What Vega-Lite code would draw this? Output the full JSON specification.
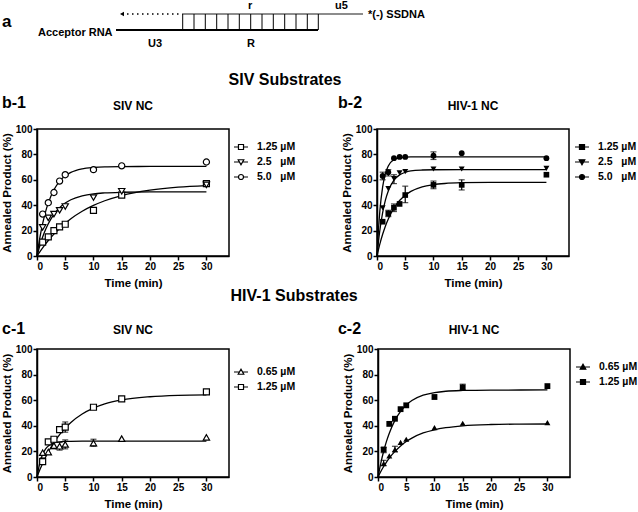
{
"$schema": "https://vega.github.io/schema/vega-lite/v6.json",
"padding": {"left": 0, "top": 0, "right": 0, "bottom": 0},
"background": "white",
"config": {
  "font": "Liberation Sans",
  "view": {"stroke": "black", "strokeWidth": 1.5},
  "axis": {"domainColor": "black", "domainWidth": 1.5, "tickColor": "black", "tickWidth": 1.5, "tickSize": 4, "labelFontSize": 10, "labelFontWeight": "bold", "labelColor": "black", "labelPadding": 1, "labelOverlap": false, "titleFontSize": 11.5, "titleFontWeight": "bold", "titleColor": "black", "grid": false},
  "axisX": {"titlePadding": 6, "tickCount": 7},
  "axisY": {"titlePadding": 3, "tickCount": 6},
  "title": {"fontSize": 16, "fontWeight": "bold", "color": "black", "anchor": "start"},
  "legend": {"title": null, "orient": "none", "labelFontSize": 10.5, "labelFontWeight": "bold", "labelColor": "black", "labelOffset": 8, "symbolSize": 196, "symbolStrokeWidth": 1.2, "symbolOpacity": 1, "rowPadding": 1, "padding": 0}
},
"datasets": {
  "diagLines": [
    {"part": "RNA", "x1": 116, "x2": 318, "y1": 30, "y2": 30},
    {"part": "DNA", "x1": 182, "x2": 363, "y1": 14, "y2": 14},
    {"part": "ext", "x1": 122, "x2": 180, "y1": 14, "y2": 14},
    {"part": "bp", "x1": 182.7, "x2": 182.7, "y1": 14, "y2": 30},
    {"part": "bp", "x1": 194, "x2": 194, "y1": 14, "y2": 30},
    {"part": "bp", "x1": 205.3, "x2": 205.3, "y1": 14, "y2": 30},
    {"part": "bp", "x1": 216.7, "x2": 216.7, "y1": 14, "y2": 30},
    {"part": "bp", "x1": 228, "x2": 228, "y1": 14, "y2": 30},
    {"part": "bp", "x1": 239.3, "x2": 239.3, "y1": 14, "y2": 30},
    {"part": "bp", "x1": 250.7, "x2": 250.7, "y1": 14, "y2": 30},
    {"part": "bp", "x1": 262, "x2": 262, "y1": 14, "y2": 30},
    {"part": "bp", "x1": 273.3, "x2": 273.3, "y1": 14, "y2": 30},
    {"part": "bp", "x1": 284.7, "x2": 284.7, "y1": 14, "y2": 30},
    {"part": "bp", "x1": 296, "x2": 296, "y1": 14, "y2": 30},
    {"part": "bp", "x1": 307.3, "x2": 307.3, "y1": 14, "y2": 30},
    {"part": "bp", "x1": 318.3, "x2": 318.3, "y1": 14, "y2": 30}
  ],
  "diagText": [
    {"label": "Acceptor RNA", "x": 38, "y": 36},
    {"label": "U3", "x": 148, "y": 47},
    {"label": "R", "x": 247, "y": 47},
    {"label": "r", "x": 248, "y": 9},
    {"label": "u5", "x": 335, "y": 9},
    {"label": "*(-) SSDNA", "x": 368, "y": 18}
  ],
  "b1pts": [
    {"t": 1, "y": 11, "conc": "1.25"}, {"t": 2, "y": 15, "conc": "1.25"}, {"t": 3, "y": 20, "conc": "1.25"}, {"t": 4, "y": 23, "conc": "1.25"}, {"t": 5, "y": 25, "conc": "1.25"}, {"t": 10, "y": 36, "conc": "1.25"}, {"t": 15, "y": 48, "conc": "1.25"}, {"t": 30, "y": 57, "conc": "1.25"},
    {"t": 1, "y": 22.5, "conc": "2.5"}, {"t": 2, "y": 30, "conc": "2.5"}, {"t": 3, "y": 33, "conc": "2.5"}, {"t": 4, "y": 36, "conc": "2.5"}, {"t": 5, "y": 39, "conc": "2.5"}, {"t": 10, "y": 46, "conc": "2.5"}, {"t": 15, "y": 51, "conc": "2.5"}, {"t": 30, "y": 56, "conc": "2.5"},
    {"t": 1, "y": 33, "conc": "5.0"}, {"t": 2, "y": 42, "conc": "5.0"}, {"t": 3, "y": 50, "conc": "5.0"}, {"t": 4, "y": 59, "conc": "5.0"}, {"t": 5, "y": 64, "conc": "5.0"}, {"t": 10, "y": 68, "conc": "5.0"}, {"t": 15, "y": 71, "conc": "5.0"}, {"t": 30, "y": 74, "conc": "5.0"}
  ],
  "b1fit": [
    {"t": 0, "y": 0, "conc": "1.25"}, {"t": 0.5, "y": 3.3, "conc": "1.25"}, {"t": 1, "y": 6.4, "conc": "1.25"}, {"t": 1.5, "y": 9.4, "conc": "1.25"}, {"t": 2, "y": 12.2, "conc": "1.25"}, {"t": 3, "y": 17.2, "conc": "1.25"}, {"t": 4, "y": 21.7, "conc": "1.25"}, {"t": 5, "y": 25.7, "conc": "1.25"}, {"t": 6, "y": 29.3, "conc": "1.25"}, {"t": 8, "y": 35.2, "conc": "1.25"}, {"t": 10, "y": 39.8, "conc": "1.25"}, {"t": 12, "y": 43.5, "conc": "1.25"}, {"t": 15, "y": 47.6, "conc": "1.25"}, {"t": 20, "y": 51.8, "conc": "1.25"}, {"t": 25, "y": 54.2, "conc": "1.25"}, {"t": 30, "y": 55.4, "conc": "1.25"},
    {"t": 0, "y": 0, "conc": "2.5"}, {"t": 0.5, "y": 8.1, "conc": "2.5"}, {"t": 1, "y": 14.9, "conc": "2.5"}, {"t": 1.5, "y": 20.6, "conc": "2.5"}, {"t": 2, "y": 25.4, "conc": "2.5"}, {"t": 3, "y": 32.8, "conc": "2.5"}, {"t": 4, "y": 38.0, "conc": "2.5"}, {"t": 5, "y": 41.7, "conc": "2.5"}, {"t": 6, "y": 44.3, "conc": "2.5"}, {"t": 8, "y": 47.4, "conc": "2.5"}, {"t": 10, "y": 49.0, "conc": "2.5"}, {"t": 12, "y": 49.7, "conc": "2.5"}, {"t": 15, "y": 50.2, "conc": "2.5"}, {"t": 20, "y": 50.5, "conc": "2.5"}, {"t": 30, "y": 50.5, "conc": "2.5"},
    {"t": 0, "y": 0, "conc": "5.0"}, {"t": 0.5, "y": 14.2, "conc": "5.0"}, {"t": 1, "y": 25.5, "conc": "5.0"}, {"t": 1.5, "y": 34.6, "conc": "5.0"}, {"t": 2, "y": 41.8, "conc": "5.0"}, {"t": 3, "y": 52.2, "conc": "5.0"}, {"t": 4, "y": 58.8, "conc": "5.0"}, {"t": 5, "y": 63.1, "conc": "5.0"}, {"t": 6, "y": 65.8, "conc": "5.0"}, {"t": 8, "y": 68.6, "conc": "5.0"}, {"t": 10, "y": 69.7, "conc": "5.0"}, {"t": 12, "y": 70.2, "conc": "5.0"}, {"t": 15, "y": 70.4, "conc": "5.0"}, {"t": 20, "y": 70.5, "conc": "5.0"}, {"t": 30, "y": 70.5, "conc": "5.0"}
  ],
  "b2pts": [
    {"t": 1, "y": 27, "conc": "1.25"}, {"t": 2, "y": 33.5, "lo": 31, "hi": 36, "conc": "1.25"}, {"t": 3, "y": 38, "lo": 35, "hi": 41, "conc": "1.25"}, {"t": 4, "y": 41, "conc": "1.25"}, {"t": 5, "y": 48, "lo": 42, "hi": 55, "conc": "1.25"}, {"t": 10, "y": 56, "lo": 53, "hi": 59, "conc": "1.25"}, {"t": 15, "y": 56, "lo": 52, "hi": 60, "conc": "1.25"}, {"t": 30, "y": 64, "conc": "1.25"},
    {"t": 1, "y": 38, "conc": "2.5"}, {"t": 2, "y": 53, "conc": "2.5"}, {"t": 3, "y": 61, "lo": 57, "hi": 64, "conc": "2.5"}, {"t": 4, "y": 65.5, "conc": "2.5"}, {"t": 5, "y": 66.5, "conc": "2.5"}, {"t": 10, "y": 68.5, "conc": "2.5"}, {"t": 15, "y": 68.5, "conc": "2.5"}, {"t": 30, "y": 69, "conc": "2.5"},
    {"t": 1, "y": 63, "lo": 60, "hi": 66, "conc": "5.0"}, {"t": 2, "y": 66, "lo": 63, "hi": 68, "conc": "5.0"}, {"t": 3, "y": 77, "conc": "5.0"}, {"t": 4, "y": 78, "conc": "5.0"}, {"t": 5, "y": 78, "conc": "5.0"}, {"t": 10, "y": 79, "lo": 76, "hi": 82, "conc": "5.0"}, {"t": 15, "y": 81, "conc": "5.0"}, {"t": 30, "y": 77, "conc": "5.0"}
  ],
  "b2fit": [
    {"t": 0, "y": 0, "conc": "1.25"}, {"t": 0.5, "y": 9.3, "conc": "1.25"}, {"t": 1, "y": 17.1, "conc": "1.25"}, {"t": 1.5, "y": 23.7, "conc": "1.25"}, {"t": 2, "y": 29.2, "conc": "1.25"}, {"t": 3, "y": 37.7, "conc": "1.25"}, {"t": 4, "y": 43.7, "conc": "1.25"}, {"t": 5, "y": 47.9, "conc": "1.25"}, {"t": 6, "y": 50.9, "conc": "1.25"}, {"t": 8, "y": 54.5, "conc": "1.25"}, {"t": 10, "y": 56.2, "conc": "1.25"}, {"t": 12, "y": 57.1, "conc": "1.25"}, {"t": 15, "y": 57.7, "conc": "1.25"}, {"t": 20, "y": 58, "conc": "1.25"}, {"t": 30, "y": 58, "conc": "1.25"},
    {"t": 0, "y": 0, "conc": "2.5"}, {"t": 0.25, "y": 10.9, "conc": "2.5"}, {"t": 0.5, "y": 20.1, "conc": "2.5"}, {"t": 1, "y": 34.2, "conc": "2.5"}, {"t": 1.5, "y": 44.2, "conc": "2.5"}, {"t": 2, "y": 51.2, "conc": "2.5"}, {"t": 3, "y": 59.7, "conc": "2.5"}, {"t": 4, "y": 63.9, "conc": "2.5"}, {"t": 5, "y": 65.9, "conc": "2.5"}, {"t": 6, "y": 67.0, "conc": "2.5"}, {"t": 8, "y": 67.7, "conc": "2.5"}, {"t": 10, "y": 67.9, "conc": "2.5"}, {"t": 15, "y": 68, "conc": "2.5"}, {"t": 30, "y": 68, "conc": "2.5"},
    {"t": 0, "y": 0, "conc": "5.0"}, {"t": 0.25, "y": 20.2, "conc": "5.0"}, {"t": 0.5, "y": 35.2, "conc": "5.0"}, {"t": 1, "y": 54.5, "conc": "5.0"}, {"t": 1.5, "y": 65.1, "conc": "5.0"}, {"t": 2, "y": 70.9, "conc": "5.0"}, {"t": 3, "y": 75.9, "conc": "5.0"}, {"t": 4, "y": 77.4, "conc": "5.0"}, {"t": 5, "y": 77.8, "conc": "5.0"}, {"t": 6, "y": 78, "conc": "5.0"}, {"t": 10, "y": 78, "conc": "5.0"}, {"t": 30, "y": 78, "conc": "5.0"}
  ],
  "c1pts": [
    {"t": 1, "y": 19, "conc": "0.65"}, {"t": 2, "y": 19.5, "conc": "0.65"}, {"t": 3, "y": 24.5, "lo": 22, "hi": 28, "conc": "0.65"}, {"t": 4, "y": 24, "lo": 21, "hi": 27, "conc": "0.65"}, {"t": 5, "y": 25.5, "lo": 22, "hi": 29, "conc": "0.65"}, {"t": 10, "y": 26.5, "lo": 24, "hi": 29.5, "conc": "0.65"}, {"t": 15, "y": 30, "conc": "0.65"}, {"t": 30, "y": 31, "conc": "0.65"},
    {"t": 1, "y": 12, "lo": 10, "hi": 15, "conc": "1.25"}, {"t": 2, "y": 27.5, "conc": "1.25"}, {"t": 3, "y": 29.5, "conc": "1.25"}, {"t": 4, "y": 37, "lo": 35, "hi": 39, "conc": "1.25"}, {"t": 5, "y": 39, "lo": 35, "hi": 43, "conc": "1.25"}, {"t": 10, "y": 54.5, "conc": "1.25"}, {"t": 15, "y": 61, "conc": "1.25"}, {"t": 30, "y": 66.5, "conc": "1.25"}
  ],
  "c1fit": [
    {"t": 0, "y": 0, "conc": "0.65"}, {"t": 0.5, "y": 11.0, "conc": "0.65"}, {"t": 1, "y": 17.7, "conc": "0.65"}, {"t": 1.5, "y": 21.8, "conc": "0.65"}, {"t": 2, "y": 24.2, "conc": "0.65"}, {"t": 3, "y": 26.6, "conc": "0.65"}, {"t": 4, "y": 27.5, "conc": "0.65"}, {"t": 5, "y": 27.8, "conc": "0.65"}, {"t": 6, "y": 27.9, "conc": "0.65"}, {"t": 8, "y": 28, "conc": "0.65"}, {"t": 15, "y": 28, "conc": "0.65"}, {"t": 30, "y": 28, "conc": "0.65"},
    {"t": 0, "y": 0, "conc": "1.25"}, {"t": 0.5, "y": 5.6, "conc": "1.25"}, {"t": 1, "y": 10.6, "conc": "1.25"}, {"t": 1.5, "y": 15.3, "conc": "1.25"}, {"t": 2, "y": 19.5, "conc": "1.25"}, {"t": 3, "y": 26.9, "conc": "1.25"}, {"t": 4, "y": 33.1, "conc": "1.25"}, {"t": 5, "y": 38.3, "conc": "1.25"}, {"t": 6, "y": 42.6, "conc": "1.25"}, {"t": 8, "y": 49.2, "conc": "1.25"}, {"t": 10, "y": 53.8, "conc": "1.25"}, {"t": 12, "y": 57.1, "conc": "1.25"}, {"t": 15, "y": 60.2, "conc": "1.25"}, {"t": 20, "y": 62.7, "conc": "1.25"}, {"t": 25, "y": 63.8, "conc": "1.25"}, {"t": 30, "y": 64.2, "conc": "1.25"}
  ],
  "c2pts": [
    {"t": 1, "y": 10.5, "lo": 9, "hi": 13, "conc": "0.65"}, {"t": 2, "y": 16.5, "conc": "0.65"}, {"t": 3, "y": 21.5, "lo": 19.5, "hi": 24, "conc": "0.65"}, {"t": 4, "y": 27, "conc": "0.65"}, {"t": 5, "y": 29.5, "conc": "0.65"}, {"t": 10, "y": 38.5, "conc": "0.65"}, {"t": 15, "y": 42, "conc": "0.65"}, {"t": 30, "y": 42.5, "conc": "0.65"},
    {"t": 1, "y": 21.5, "lo": 19, "hi": 23, "conc": "1.25"}, {"t": 2, "y": 41.5, "conc": "1.25"}, {"t": 3, "y": 45.5, "conc": "1.25"}, {"t": 4, "y": 53, "conc": "1.25"}, {"t": 5, "y": 56, "conc": "1.25"}, {"t": 10, "y": 62.5, "conc": "1.25"}, {"t": 15, "y": 70, "lo": 68, "hi": 72.5, "conc": "1.25"}, {"t": 30, "y": 71, "conc": "1.25"}
  ],
  "c2fit": [
    {"t": 0, "y": 0, "conc": "0.65"}, {"t": 0.5, "y": 4.3, "conc": "0.65"}, {"t": 1, "y": 8.2, "conc": "0.65"}, {"t": 1.5, "y": 11.7, "conc": "0.65"}, {"t": 2, "y": 14.8, "conc": "0.65"}, {"t": 3, "y": 20.0, "conc": "0.65"}, {"t": 4, "y": 24.3, "conc": "0.65"}, {"t": 5, "y": 27.7, "conc": "0.65"}, {"t": 6, "y": 30.4, "conc": "0.65"}, {"t": 8, "y": 34.4, "conc": "0.65"}, {"t": 10, "y": 36.9, "conc": "0.65"}, {"t": 12, "y": 38.5, "conc": "0.65"}, {"t": 15, "y": 40.0, "conc": "0.65"}, {"t": 20, "y": 41.0, "conc": "0.65"}, {"t": 25, "y": 41.3, "conc": "0.65"}, {"t": 30, "y": 41.4, "conc": "0.65"},
    {"t": 0, "y": 0, "conc": "1.25"}, {"t": 0.5, "y": 10.9, "conc": "1.25"}, {"t": 1, "y": 20.1, "conc": "1.25"}, {"t": 1.5, "y": 27.8, "conc": "1.25"}, {"t": 2, "y": 34.2, "conc": "1.25"}, {"t": 3, "y": 44.2, "conc": "1.25"}, {"t": 4, "y": 51.2, "conc": "1.25"}, {"t": 5, "y": 56.2, "conc": "1.25"}, {"t": 6, "y": 59.7, "conc": "1.25"}, {"t": 8, "y": 63.9, "conc": "1.25"}, {"t": 10, "y": 65.9, "conc": "1.25"}, {"t": 12, "y": 67.0, "conc": "1.25"}, {"t": 15, "y": 67.6, "conc": "1.25"}, {"t": 20, "y": 67.9, "conc": "1.25"}, {"t": 30, "y": 68, "conc": "1.25"}
  ]
},
"resolve": {"scale": {"x": "independent", "y": "independent", "shape": "independent"}, "legend": {"shape": "independent"}},
"spacing": -2,
"vconcat": [
  {
    "width": 600, "height": 74,
    "view": {"stroke": null},
    "layer": [
      {"data": {"name": "diagLines"}, "transform": [{"filter": "datum.part == 'RNA'"}], "mark": {"type": "rule", "color": "black", "strokeWidth": 2},
       "encoding": {"x": {"field": "x1", "type": "quantitative", "scale": {"domain": [37, 637], "nice": false, "zero": false}, "axis": null}, "x2": {"field": "x2"}, "y": {"field": "y1", "type": "quantitative", "scale": {"domain": [0, 74], "reverse": true, "nice": false, "zero": false}, "axis": null}, "y2": {"field": "y2"}}},
      {"data": {"name": "diagLines"}, "transform": [{"filter": "datum.part == 'DNA'"}], "mark": {"type": "rule", "color": "#8c8c8c", "strokeWidth": 2},
       "encoding": {"x": {"field": "x1", "type": "quantitative"}, "x2": {"field": "x2"}, "y": {"field": "y1", "type": "quantitative"}, "y2": {"field": "y2"}}},
      {"data": {"name": "diagLines"}, "transform": [{"filter": "datum.part == 'ext'"}], "mark": {"type": "rule", "color": "black", "strokeWidth": 1.5, "strokeDash": [1.5, 3.5]},
       "encoding": {"x": {"field": "x1", "type": "quantitative"}, "x2": {"field": "x2"}, "y": {"field": "y1", "type": "quantitative"}, "y2": {"field": "y2"}}},
      {"data": {"name": "diagLines"}, "transform": [{"filter": "datum.part == 'bp'"}], "mark": {"type": "rule", "color": "black", "strokeWidth": 1},
       "encoding": {"x": {"field": "x1", "type": "quantitative"}, "x2": {"field": "x2"}, "y": {"field": "y1", "type": "quantitative"}, "y2": {"field": "y2"}}},
      {"data": {"name": "diagLines"}, "transform": [{"filter": "datum.part == 'ext'"}], "mark": {"type": "point", "shape": "triangle-left", "filled": true, "color": "black", "size": 22, "opacity": 1},
       "encoding": {"x": {"field": "x1", "type": "quantitative"}, "y": {"field": "y1", "type": "quantitative"}}},
      {"data": {"name": "diagText"}, "mark": {"type": "text", "align": "left", "baseline": "alphabetic", "fontSize": 11, "fontWeight": "bold", "color": "black"},
       "encoding": {"x": {"field": "x", "type": "quantitative"}, "y": {"field": "y", "type": "quantitative"}, "text": {"field": "label"}}},
      {"data": {"values": [{"label": "a"}]}, "mark": {"type": "text", "align": "left", "baseline": "alphabetic", "fontSize": 17, "fontWeight": "bold", "color": "black"},
       "encoding": {"x": {"datum": 2}, "y": {"datum": 27}, "text": {"field": "label"}}}
    ]
  },
  {
    "title": {"text": "SIV Substrates", "dx": 228, "offset": 6},
    "resolve": {"scale": {"x": "independent", "y": "independent", "shape": "independent"}, "legend": {"shape": "independent"}},
    "spacing": 40,
    "hconcat": [
      {
        "width": 192, "height": 127,
        "layer": [
          {"data": {"name": "b1fit"}, "mark": {"type": "line", "color": "black", "strokeWidth": 1.3, "interpolate": "monotone"},
           "encoding": {"x": {"field": "t", "type": "quantitative", "scale": {"domain": [0, 34], "nice": false}, "axis": {"values": [0, 5, 10, 15, 20, 25, 30], "labelOverlap": false, "title": "Time (min)"}},
                        "y": {"field": "y", "type": "quantitative", "scale": {"domain": [0, 100], "nice": false}, "axis": {"values": [0, 20, 40, 60, 80, 100], "labelOverlap": false, "title": "Annealed Product (%)"}},
                        "detail": {"field": "conc"}}},
          {"data": {"name": "b1pts"}, "transform": [{"filter": "datum.conc == '1.25'"}], "mark": {"type": "point", "shape": "square", "filled": true, "fill": "white", "stroke": "black", "strokeWidth": 1.2, "size": 36, "opacity": 1},
           "encoding": {"x": {"field": "t", "type": "quantitative"}, "y": {"field": "y", "type": "quantitative"}}},
          {"data": {"name": "b1pts"}, "transform": [{"filter": "datum.conc == '2.5'"}], "mark": {"type": "point", "shape": "triangle-down", "filled": true, "fill": "white", "stroke": "black", "strokeWidth": 1.2, "size": 40, "opacity": 1},
           "encoding": {"x": {"field": "t", "type": "quantitative"}, "y": {"field": "y", "type": "quantitative"}}},
          {"data": {"name": "b1pts"}, "transform": [{"filter": "datum.conc == '5.0'"}], "mark": {"type": "point", "shape": "circle", "filled": true, "fill": "white", "stroke": "black", "strokeWidth": 1.2, "size": 38, "opacity": 1},
           "encoding": {"x": {"field": "t", "type": "quantitative"}, "y": {"field": "y", "type": "quantitative"}}},
          {"data": {"name": "b1pts"}, "mark": {"type": "point", "filled": false, "stroke": "black", "strokeWidth": 1.2, "opacity": 0},
           "encoding": {"x": {"field": "t", "type": "quantitative"}, "y": {"field": "y", "type": "quantitative"},
                        "shape": {"field": "conc", "type": "nominal", "scale": {"domain": ["1.25", "2.5", "5.0"], "range": ["M-1,0H-0.36M0.36,0H1M-0.36,-0.36H0.36V0.36H-0.36Z", "M-1,0H-0.2M0.2,0H1M-0.4,-0.32H0.4L0,0.4Z", "M-1,0H-0.36M0.36,0H1M-0.36,0A0.36,0.36 0 1,0 0.36,0A0.36,0.36 0 1,0 -0.36,0Z"]},
                                  "legend": {"legendX": 196, "legendY": 10, "symbolOpacity": 1, "labelExpr": "datum.label + (length(datum.label) == 3 ? '\u00a0\u00a0 µM' : ' µM')"}}}},
          {"data": {"values": [{"label": "b-1"}]}, "mark": {"type": "text", "align": "left", "baseline": "alphabetic", "fontSize": 16, "fontWeight": "bold", "color": "black"},
           "encoding": {"x": {"datum": -6.2}, "y": {"datum": 116.5}, "text": {"field": "label"}}},
          {"data": {"values": [{"label": "SIV NC"}]}, "mark": {"type": "text", "align": "center", "baseline": "alphabetic", "fontSize": 12, "fontWeight": "bold", "color": "black"},
           "encoding": {"x": {"datum": 17}, "y": {"datum": 115}, "text": {"field": "label"}}}
        ]
      },
      {
        "width": 192, "height": 127,
        "layer": [
          {"data": {"name": "b2fit"}, "mark": {"type": "line", "color": "black", "strokeWidth": 1.3, "interpolate": "monotone"},
           "encoding": {"x": {"field": "t", "type": "quantitative", "scale": {"domain": [0, 34], "nice": false}, "axis": {"values": [0, 5, 10, 15, 20, 25, 30], "labelOverlap": false, "title": "Time (min)"}},
                        "y": {"field": "y", "type": "quantitative", "scale": {"domain": [0, 100], "nice": false}, "axis": {"values": [0, 20, 40, 60, 80, 100], "labelOverlap": false, "title": "Annealed Product (%)"}},
                        "detail": {"field": "conc"}}},
          {"data": {"name": "b2pts"}, "transform": [{"filter": "isValid(datum.lo)"}], "mark": {"type": "rule", "color": "black", "strokeWidth": 1.2},
           "encoding": {"x": {"field": "t", "type": "quantitative"}, "y": {"field": "lo", "type": "quantitative"}, "y2": {"field": "hi"}}},
          {"data": {"name": "b2pts"}, "transform": [{"filter": "isValid(datum.lo)"}], "mark": {"type": "tick", "orient": "horizontal", "color": "black", "size": 6, "thickness": 1.2},
           "encoding": {"x": {"field": "t", "type": "quantitative"}, "y": {"field": "lo", "type": "quantitative"}}},
          {"data": {"name": "b2pts"}, "transform": [{"filter": "isValid(datum.lo)"}], "mark": {"type": "tick", "orient": "horizontal", "color": "black", "size": 6, "thickness": 1.2},
           "encoding": {"x": {"field": "t", "type": "quantitative"}, "y": {"field": "hi", "type": "quantitative"}}},
          {"data": {"name": "b2pts"}, "transform": [{"filter": "datum.conc == '1.25'"}], "mark": {"type": "point", "shape": "square", "filled": true, "color": "black", "size": 32, "opacity": 1},
           "encoding": {"x": {"field": "t", "type": "quantitative"}, "y": {"field": "y", "type": "quantitative"}}},
          {"data": {"name": "b2pts"}, "transform": [{"filter": "datum.conc == '2.5'"}], "mark": {"type": "point", "shape": "triangle-down", "filled": true, "color": "black", "size": 36, "opacity": 1},
           "encoding": {"x": {"field": "t", "type": "quantitative"}, "y": {"field": "y", "type": "quantitative"}}},
          {"data": {"name": "b2pts"}, "transform": [{"filter": "datum.conc == '5.0'"}], "mark": {"type": "point", "shape": "circle", "filled": true, "color": "black", "size": 34, "opacity": 1},
           "encoding": {"x": {"field": "t", "type": "quantitative"}, "y": {"field": "y", "type": "quantitative"}}},
          {"data": {"name": "b2pts"}, "mark": {"type": "point", "filled": false, "fill": "black", "stroke": "black", "strokeWidth": 1.2, "opacity": 0},
           "encoding": {"x": {"field": "t", "type": "quantitative"}, "y": {"field": "y", "type": "quantitative"},
                        "shape": {"field": "conc", "type": "nominal", "scale": {"domain": ["1.25", "2.5", "5.0"], "range": ["M-1,0H-0.36M0.36,0H1M-0.36,-0.36H0.36V0.36H-0.36Z", "M-1,0H-0.2M0.2,0H1M-0.4,-0.32H0.4L0,0.4Z", "M-1,0H-0.36M0.36,0H1M-0.36,0A0.36,0.36 0 1,0 0.36,0A0.36,0.36 0 1,0 -0.36,0Z"]},
                                  "legend": {"legendX": 197, "legendY": 10, "symbolOpacity": 1, "labelExpr": "datum.label + (length(datum.label) == 3 ? '\u00a0\u00a0 µM' : ' µM')"}}}},
          {"data": {"values": [{"label": "b-2"}]}, "mark": {"type": "text", "align": "left", "baseline": "alphabetic", "fontSize": 16, "fontWeight": "bold", "color": "black"},
           "encoding": {"x": {"datum": -6.9}, "y": {"datum": 116.5}, "text": {"field": "label"}}},
          {"data": {"values": [{"label": "HIV-1 NC"}]}, "mark": {"type": "text", "align": "center", "baseline": "alphabetic", "fontSize": 12, "fontWeight": "bold", "color": "black"},
           "encoding": {"x": {"datum": 17}, "y": {"datum": 115}, "text": {"field": "label"}}}
        ]
      }
    ]
  },
  {
    "title": {"text": "HIV-1 Substrates", "dx": 230, "offset": 16},
    "resolve": {"scale": {"x": "independent", "y": "independent", "shape": "independent"}, "legend": {"shape": "independent"}},
    "spacing": 40,
    "hconcat": [
      {
        "width": 192, "height": 128,
        "layer": [
          {"data": {"name": "c1fit"}, "mark": {"type": "line", "color": "black", "strokeWidth": 1.3, "interpolate": "monotone"},
           "encoding": {"x": {"field": "t", "type": "quantitative", "scale": {"domain": [0, 34], "nice": false}, "axis": {"values": [0, 5, 10, 15, 20, 25, 30], "labelOverlap": false, "title": "Time (min)"}},
                        "y": {"field": "y", "type": "quantitative", "scale": {"domain": [0, 100], "nice": false}, "axis": {"values": [0, 20, 40, 60, 80, 100], "labelOverlap": false, "title": "Annealed Product (%)"}},
                        "detail": {"field": "conc"}}},
          {"data": {"name": "c1pts"}, "transform": [{"filter": "isValid(datum.lo)"}], "mark": {"type": "rule", "color": "black", "strokeWidth": 1.2},
           "encoding": {"x": {"field": "t", "type": "quantitative"}, "y": {"field": "lo", "type": "quantitative"}, "y2": {"field": "hi"}}},
          {"data": {"name": "c1pts"}, "transform": [{"filter": "isValid(datum.lo)"}], "mark": {"type": "tick", "orient": "horizontal", "color": "black", "size": 6, "thickness": 1.2},
           "encoding": {"x": {"field": "t", "type": "quantitative"}, "y": {"field": "lo", "type": "quantitative"}}},
          {"data": {"name": "c1pts"}, "transform": [{"filter": "isValid(datum.lo)"}], "mark": {"type": "tick", "orient": "horizontal", "color": "black", "size": 6, "thickness": 1.2},
           "encoding": {"x": {"field": "t", "type": "quantitative"}, "y": {"field": "hi", "type": "quantitative"}}},
          {"data": {"name": "c1pts"}, "transform": [{"filter": "datum.conc == '0.65'"}], "mark": {"type": "point", "shape": "triangle-up", "filled": true, "fill": "white", "stroke": "black", "strokeWidth": 1.2, "size": 40, "opacity": 1},
           "encoding": {"x": {"field": "t", "type": "quantitative"}, "y": {"field": "y", "type": "quantitative"}}},
          {"data": {"name": "c1pts"}, "transform": [{"filter": "datum.conc == '1.25'"}], "mark": {"type": "point", "shape": "square", "filled": true, "fill": "white", "stroke": "black", "strokeWidth": 1.2, "size": 36, "opacity": 1},
           "encoding": {"x": {"field": "t", "type": "quantitative"}, "y": {"field": "y", "type": "quantitative"}}},
          {"data": {"name": "c1pts"}, "mark": {"type": "point", "filled": false, "stroke": "black", "strokeWidth": 1.2, "opacity": 0},
           "encoding": {"x": {"field": "t", "type": "quantitative"}, "y": {"field": "y", "type": "quantitative"},
                        "shape": {"field": "conc", "type": "nominal", "scale": {"domain": ["0.65", "1.25"], "range": ["M-1,0H-0.2M0.2,0H1M-0.4,0.32H0.4L0,-0.4Z", "M-1,0H-0.36M0.36,0H1M-0.36,-0.36H0.36V0.36H-0.36Z"]},
                                  "legend": {"legendX": 196, "legendY": 15, "symbolOpacity": 1, "labelExpr": "datum.label + ' µM'"}}}},
          {"data": {"values": [{"label": "c-1"}]}, "mark": {"type": "text", "align": "left", "baseline": "alphabetic", "fontSize": 16, "fontWeight": "bold", "color": "black"},
           "encoding": {"x": {"datum": -6.2}, "y": {"datum": 111.7}, "text": {"field": "label"}}},
          {"data": {"values": [{"label": "SIV NC"}]}, "mark": {"type": "text", "align": "center", "baseline": "alphabetic", "fontSize": 12, "fontWeight": "bold", "color": "black"},
           "encoding": {"x": {"datum": 17}, "y": {"datum": 111.7}, "text": {"field": "label"}}}
        ]
      },
      {
        "width": 192, "height": 128,
        "layer": [
          {"data": {"name": "c2fit"}, "mark": {"type": "line", "color": "black", "strokeWidth": 1.3, "interpolate": "monotone"},
           "encoding": {"x": {"field": "t", "type": "quantitative", "scale": {"domain": [0, 34], "nice": false}, "axis": {"values": [0, 5, 10, 15, 20, 25, 30], "labelOverlap": false, "title": "Time (min)"}},
                        "y": {"field": "y", "type": "quantitative", "scale": {"domain": [0, 100], "nice": false}, "axis": {"values": [0, 20, 40, 60, 80, 100], "labelOverlap": false, "title": "Annealed Product (%)"}},
                        "detail": {"field": "conc"}}},
          {"data": {"name": "c2pts"}, "transform": [{"filter": "isValid(datum.lo)"}], "mark": {"type": "rule", "color": "black", "strokeWidth": 1.2},
           "encoding": {"x": {"field": "t", "type": "quantitative"}, "y": {"field": "lo", "type": "quantitative"}, "y2": {"field": "hi"}}},
          {"data": {"name": "c2pts"}, "transform": [{"filter": "isValid(datum.lo)"}], "mark": {"type": "tick", "orient": "horizontal", "color": "black", "size": 6, "thickness": 1.2},
           "encoding": {"x": {"field": "t", "type": "quantitative"}, "y": {"field": "lo", "type": "quantitative"}}},
          {"data": {"name": "c2pts"}, "transform": [{"filter": "isValid(datum.lo)"}], "mark": {"type": "tick", "orient": "horizontal", "color": "black", "size": 6, "thickness": 1.2},
           "encoding": {"x": {"field": "t", "type": "quantitative"}, "y": {"field": "hi", "type": "quantitative"}}},
          {"data": {"name": "c2pts"}, "transform": [{"filter": "datum.conc == '0.65'"}], "mark": {"type": "point", "shape": "triangle-up", "filled": true, "color": "black", "size": 36, "opacity": 1},
           "encoding": {"x": {"field": "t", "type": "quantitative"}, "y": {"field": "y", "type": "quantitative"}}},
          {"data": {"name": "c2pts"}, "transform": [{"filter": "datum.conc == '1.25'"}], "mark": {"type": "point", "shape": "square", "filled": true, "color": "black", "size": 34, "opacity": 1},
           "encoding": {"x": {"field": "t", "type": "quantitative"}, "y": {"field": "y", "type": "quantitative"}}},
          {"data": {"name": "c2pts"}, "mark": {"type": "point", "filled": false, "fill": "black", "stroke": "black", "strokeWidth": 1.2, "opacity": 0},
           "encoding": {"x": {"field": "t", "type": "quantitative"}, "y": {"field": "y", "type": "quantitative"},
                        "shape": {"field": "conc", "type": "nominal", "scale": {"domain": ["0.65", "1.25"], "range": ["M-1,0H-0.2M0.2,0H1M-0.4,0.32H0.4L0,-0.4Z", "M-1,0H-0.36M0.36,0H1M-0.36,-0.36H0.36V0.36H-0.36Z"]},
                                  "legend": {"legendX": 197, "legendY": 10, "symbolOpacity": 1, "labelExpr": "datum.label + ' µM'"}}}},
          {"data": {"values": [{"label": "c-2"}]}, "mark": {"type": "text", "align": "left", "baseline": "alphabetic", "fontSize": 16, "fontWeight": "bold", "color": "black"},
           "encoding": {"x": {"datum": -7.1}, "y": {"datum": 111.7}, "text": {"field": "label"}}},
          {"data": {"values": [{"label": "HIV-1 NC"}]}, "mark": {"type": "text", "align": "center", "baseline": "alphabetic", "fontSize": 12, "fontWeight": "bold", "color": "black"},
           "encoding": {"x": {"datum": 17}, "y": {"datum": 111.7}, "text": {"field": "label"}}}
        ]
      }
    ]
  }
]
}
